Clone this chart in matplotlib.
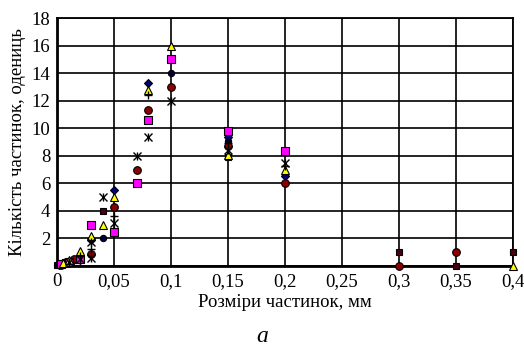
import matplotlib.pyplot as plt

plt.rcParams['font.family'] = ['Liberation Serif', 'DejaVu Serif']

# series (x in mm, y in count)
diamond_x = [0.002, 0.01, 0.02, 0.03, 0.05, 0.08, 0.15, 0.2]
diamond_y = [0.1, 0.2, 0.4, 1.9, 5.5, 13.3, 9.4, 6.5]

square_x = [0.003, 0.01, 0.02, 0.03, 0.05, 0.07, 0.08, 0.1, 0.15, 0.2]
square_y = [0.15, 0.3, 0.5, 2.96, 2.5, 6.05, 10.6, 15.0, 9.8, 8.36]

tri_x = [0.005, 0.01, 0.02, 0.03, 0.04, 0.05, 0.08, 0.1, 0.15, 0.2, 0.4]
tri_y = [0.2, 0.4, 1.1, 2.2, 3.0, 5.0, 12.8, 16.0, 8.07, 6.98, 0]

circle_x = [0.003, 0.008, 0.015, 0.03, 0.05, 0.07, 0.08, 0.1, 0.15, 0.2, 0.3, 0.35]
circle_y = [0.1, 0.3, 0.5, 0.85, 4.3, 7.0, 11.35, 13.0, 8.7, 6.05, 0, 1]

star_x = [0.01, 0.02, 0.03, 0.03, 0.04, 0.05, 0.07, 0.08, 0.1, 0.15, 0.2]
star_y = [0.3, 0.5, 1.75, 0.55, 5.0, 3.1, 8.0, 9.35, 12.0, 8.4, 7.5]

plus_x = [0.02, 0.03, 0.05, 0.08, 0.15, 0.2]
plus_y = [0.7, 1.25, 3.6, 12.4, 8.9, 7.27]

dot_x = [0.04, 0.1, 0.15, 0.2]
dot_y = [2.0, 14.0, 9.1, 6.6]

dark_x = [0.0, 0.001, 0.003, 0.005, 0.007, 0.01, 0.012, 0.015, 0.018, 0.02, 0.04, 0.15, 0.3, 0.35, 0.4]
dark_y = [0.05, 0.1, 0.15, 0.2, 0.25, 0.3, 0.35, 0.4, 0.45, 0.5, 4.0, 7.9, 1, 0, 1]

xticks = [0, 0.05, 0.1, 0.15, 0.2, 0.25, 0.3, 0.35, 0.4]
xlabels = ['0', '0,05', '0,1', '0,15', '0,2', '0,25', '0,3', '0,35', '0,4']
yticks = [0, 2, 4, 6, 8, 10, 12, 14, 16, 18]
ylabels = ['', '2', '4', '6', '8', '10', '12', '14', '16', '18']

fig = plt.figure(figsize=(5.24, 3.49), dpi=100)
ax = fig.add_axes([0.109, 0.238, 0.870, 0.710])

kw = dict(linestyle='none', markeredgecolor='black', markeredgewidth=0.8, clip_on=False, zorder=3)
ax.plot(dark_x, dark_y, marker='s', markersize=4.5, color='#4a0010', **kw)
ax.plot(dot_x, dot_y, marker='o', markersize=4.5, color='#000040', **kw)
ax.plot(diamond_x, diamond_y, marker='D', markersize=4, color='#000080', **kw)
ax.plot(circle_x, circle_y, marker='o', markersize=5.5, color='#8b0000', **kw)
ax.plot(square_x, square_y, marker='s', markersize=5.5, color='#ff00ff', **kw)
ax.plot(tri_x, tri_y, marker='^', markersize=5.5, color='#ffff00', **kw)
for m in ['x', '|']:
    ax.plot(star_x, star_y, marker=m, markersize=5.5, color='black', linestyle='none',
            markeredgewidth=1.0, clip_on=False, zorder=3)
ax.plot(plus_x, plus_y, marker='+', markersize=5.5, color='black', linestyle='none',
        markeredgewidth=1.0, clip_on=False, zorder=3)

ax.set_xlim(0, 0.4)
ax.set_ylim(0, 18)
ax.set_xticks(xticks)
ax.set_xticklabels(xlabels)
ax.set_yticks(yticks)
ax.set_yticklabels(ylabels)
ax.tick_params(length=0, labelsize=13.5, pad=5)
ax.grid(True, color='black', linewidth=1.2)
ax.set_axisbelow(True)
for s in ax.spines.values():
    s.set_linewidth(1.3)
ax.spines['left'].set_linewidth(2)
ax.spines['bottom'].set_linewidth(2)

ax.set_xlabel('Розміри частинок, мм', fontsize=13.5, labelpad=3)
ax.set_ylabel('Кількість частинок, одениць', fontsize=13.5, labelpad=4)
fig.text(0.5, 0.02, 'а', fontsize=17, style='italic', ha='center')

fig.savefig('out.png', dpi=100)
